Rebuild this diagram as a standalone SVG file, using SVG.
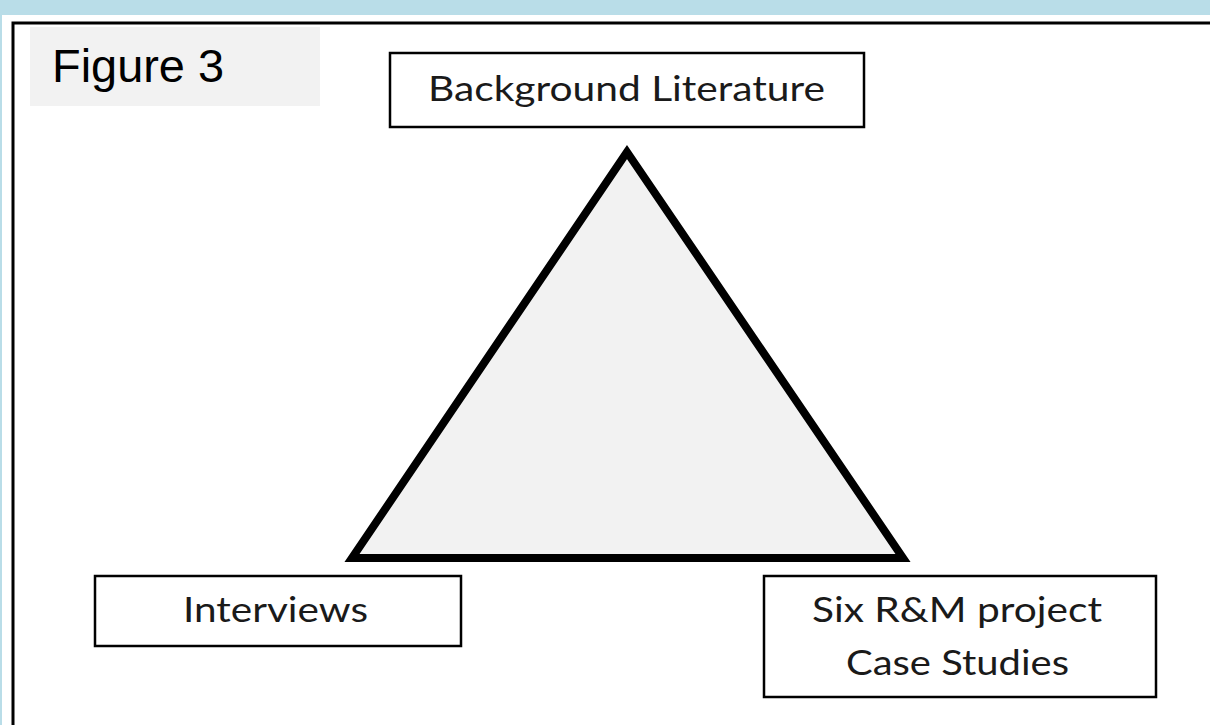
<svg xmlns="http://www.w3.org/2000/svg" width="1210" height="725" viewBox="0 0 1210 725">
<style>
.box{fill:#ffffff;stroke:#000000;stroke-width:2.5}
.lbl{font-family:Lato,"Open Sans","Liberation Sans",sans-serif;font-size:35px;fill:#1a1a1a}
.fig{font-family:"Liberation Sans",Arial,sans-serif;font-size:46px;fill:#000000}
</style>
<rect x="0" y="0" width="1210" height="725" fill="#ffffff"/>
<rect x="0" y="0" width="1210" height="15" fill="#b9dde8"/>
<rect x="0" y="0" width="2" height="725" fill="#b9dde8"/>
<rect x="13" y="23" width="1230" height="730" fill="#ffffff" stroke="#000000" stroke-width="3"/>
<g id="figure-label">
<rect x="30" y="27" width="290" height="79" fill="#f2f2f2"/>
<text class="fig" x="52" y="82" textLength="172" lengthAdjust="spacingAndGlyphs">Figure 3</text>
</g>
<g id="connectors">
<polygon points="627,152 352,558 903,558" fill="#f2f2f2" stroke="#000000" stroke-width="8" stroke-linejoin="miter"/>
</g>
<g id="node-background">
<rect class="box" x="390" y="53" width="474" height="74"/>
<text class="lbl" x="428" y="101" font-size="33" textLength="397" lengthAdjust="spacingAndGlyphs">Background Literature</text>
</g>
<g id="node-interviews">
<rect class="box" x="95" y="576" width="366" height="70"/>
<text class="lbl" x="183" y="622" font-size="36" textLength="185" lengthAdjust="spacingAndGlyphs">Interviews</text>
</g>
<g id="node-casestudies">
<rect class="box" x="764" y="576" width="392" height="121"/>
<text class="lbl" x="812" y="622" textLength="290" lengthAdjust="spacingAndGlyphs">Six R&amp;M project</text>
<text class="lbl" x="846" y="675" textLength="223" lengthAdjust="spacingAndGlyphs">Case Studies</text>
</g>
</svg>
